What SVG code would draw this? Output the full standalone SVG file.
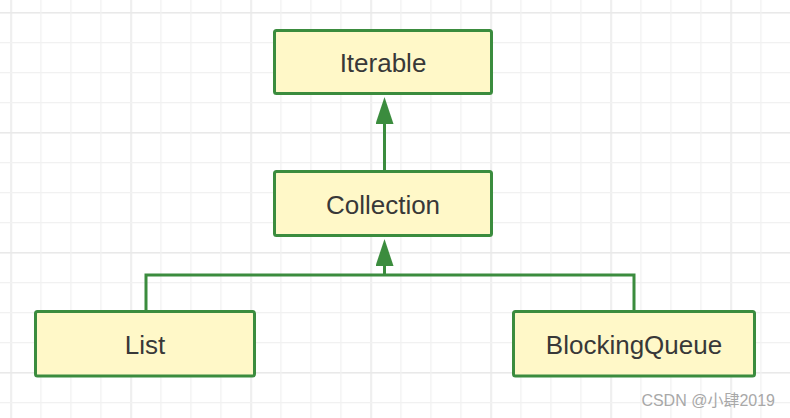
<svg xmlns="http://www.w3.org/2000/svg" width="790" height="418" viewBox="0 0 790 418">
<defs>
<pattern id="grid" patternUnits="userSpaceOnUse" x="10.3" y="12" width="120" height="120">
<rect x="0" y="0" width="1.6" height="120" fill="#e9e9e9"/>
<rect x="0" y="0" width="120" height="1.6" fill="#e9e9e9"/>
<rect x="30" y="0" width="1.3" height="120" fill="#f1f1f1"/>
<rect x="60" y="0" width="1.3" height="120" fill="#f1f1f1"/>
<rect x="90" y="0" width="1.3" height="120" fill="#f1f1f1"/>
<rect x="0" y="30" width="120" height="1.3" fill="#f1f1f1"/>
<rect x="0" y="60" width="120" height="1.3" fill="#f1f1f1"/>
<rect x="0" y="90" width="120" height="1.3" fill="#f1f1f1"/>
</pattern>
<marker id="arrow" markerUnits="userSpaceOnUse" viewBox="0 0 27 18" refX="0" refY="9" markerWidth="27" markerHeight="18" orient="auto">
<path d="M0,0 L27,9 L0,18 Z" fill="#3b8c3e"/>
</marker>
</defs>
<style>
.box{fill:#fff8c8;stroke:#3b8c3e;stroke-width:3}
.lbl{font-family:"Liberation Sans","Noto Sans",Arial,sans-serif;font-size:26px;fill:#383838;text-anchor:middle}
.conn{fill:none;stroke:#3b8c3e;stroke-width:3}
.wm{font-family:"Liberation Sans","Noto Sans CJK SC",sans-serif;font-size:16px;fill:#a8a8a8;text-anchor:end}
</style>
<rect x="0" y="0" width="790" height="418" fill="#ffffff"/>
<rect x="0" y="0" width="790" height="418" fill="url(#grid)"/>
<g id="connectors">
<path class="conn" d="M384.5,170 V124" marker-end="url(#arrow)"/>
<path class="conn" d="M384.5,275 V266" marker-end="url(#arrow)"/>
<path class="conn" d="M146,310 V275 H634 V310"/>
</g>
<g id="iterable">
<rect class="box" x="274.5" y="30.5" width="217" height="63" rx="2"/>
<text class="lbl" x="383" y="72">Iterable</text>
</g>
<g id="collection">
<rect class="box" x="274.5" y="171.5" width="217" height="64" rx="2"/>
<text class="lbl" x="383" y="214">Collection</text>
</g>
<g id="list">
<rect class="box" x="35.5" y="311.5" width="219" height="64.5" rx="2"/>
<text class="lbl" x="145" y="354">List</text>
</g>
<g id="blockingqueue">
<rect class="box" x="513.5" y="311.5" width="241" height="64.5" rx="2"/>
<text class="lbl" x="634" y="354">BlockingQueue</text>
</g>
<text class="wm" x="775" y="406">CSDN @小肆2019</text>
</svg>
